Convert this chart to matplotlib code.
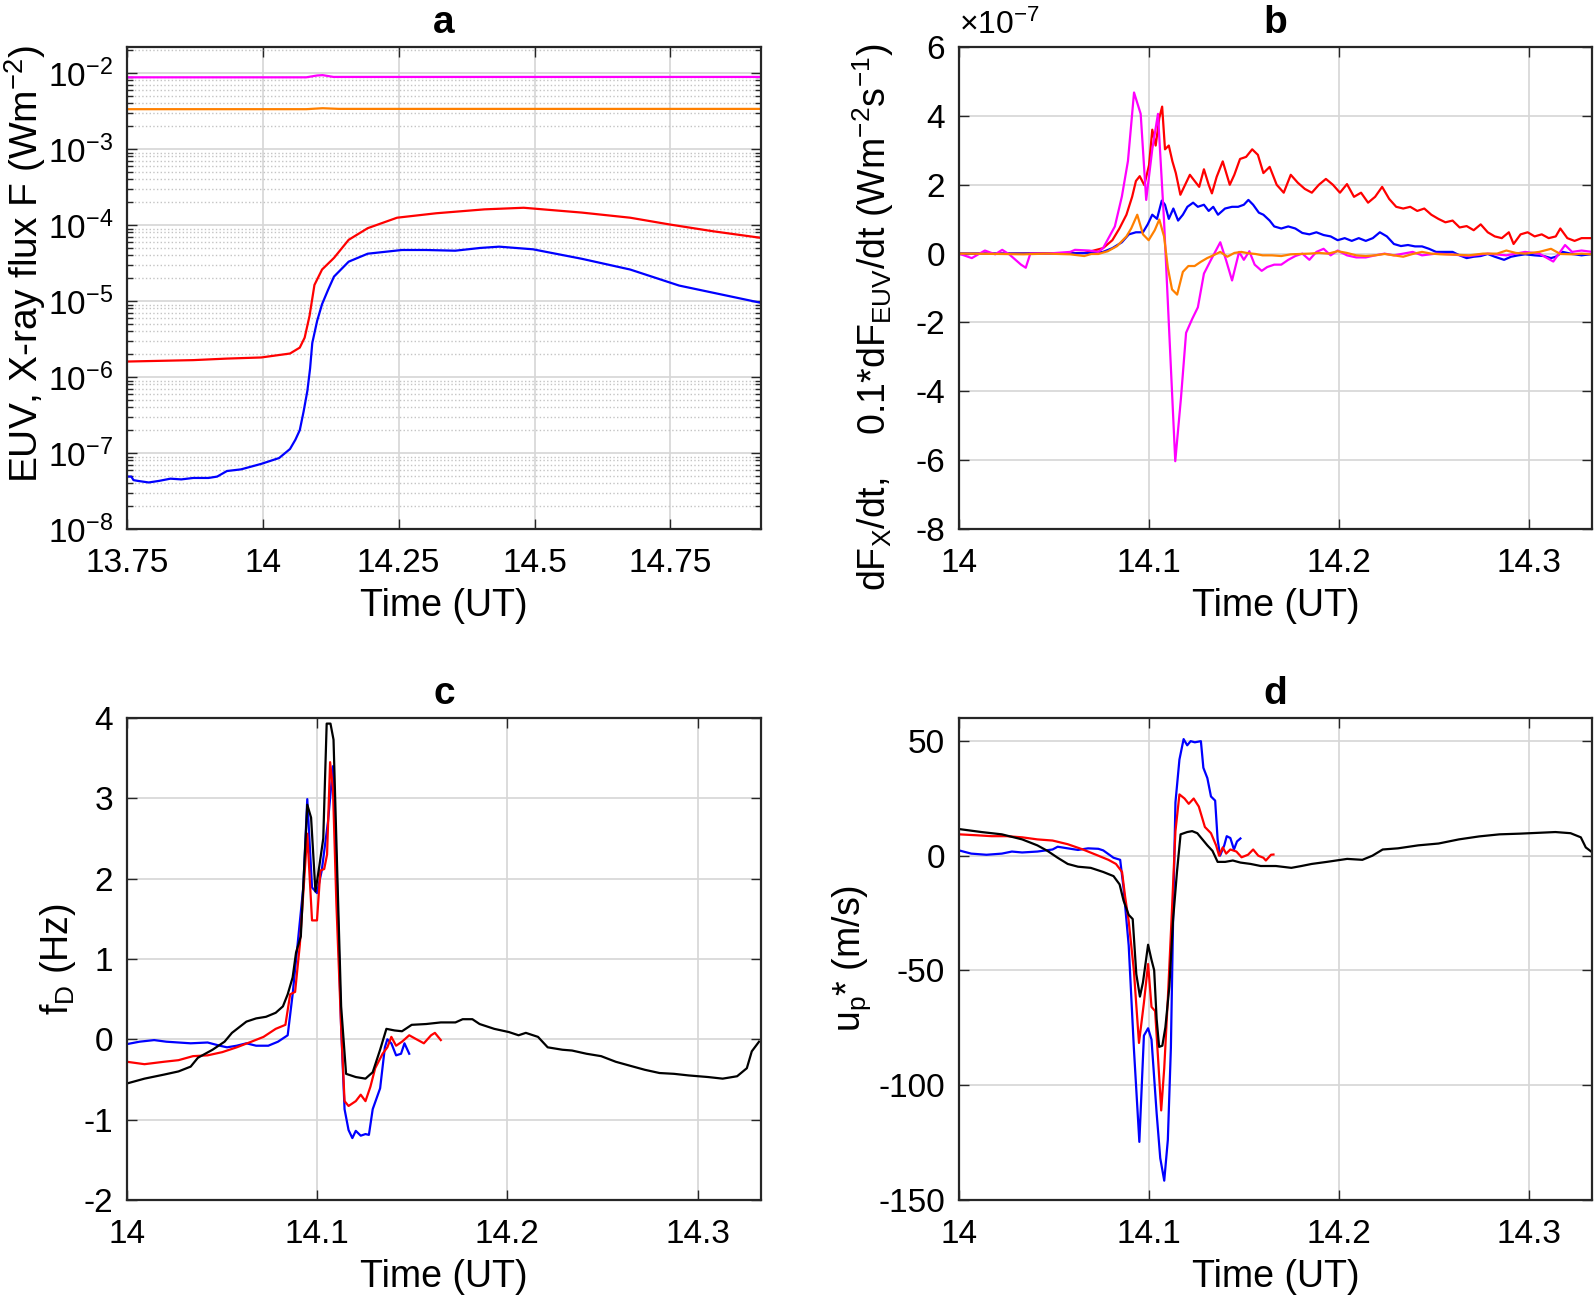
import numpy as np
import matplotlib
matplotlib.use("Agg")
import matplotlib.pyplot as plt
from matplotlib.ticker import FuncFormatter, LogLocator, NullFormatter

plt.rcParams['font.family'] = ['Liberation Sans', 'DejaVu Sans']
plt.rcParams['mathtext.fontset'] = 'custom'
plt.rcParams['mathtext.rm'] = 'Liberation Sans'
plt.rcParams['mathtext.it'] = 'Liberation Sans:italic'
plt.rcParams['mathtext.bf'] = 'Liberation Sans:bold'
plt.rcParams['mathtext.default'] = 'regular'
plt.rcParams['axes.unicode_minus'] = False

RED, BLUE, MAG, ORANGE, BLACK = '#ff0000', '#0000ff', '#ff00ff', '#ff8000', '#000000'

# ---- panel a: fluxes (W m^-2)
a_red_t = [13.75, 13.872, 13.934, 13.997, 14.05, 14.068, 14.077, 14.086, 14.095, 14.109, 14.131,
           14.158, 14.193, 14.247, 14.319, 14.408, 14.48, 14.587, 14.676, 14.748, 14.828, 14.916]
a_red_f = [1.6e-6, 1.67e-6, 1.75e-6, 1.81e-6, 2.04e-6, 2.44e-6, 3.3e-6, 6.4e-6, 1.63e-5, 2.6e-5, 3.7e-5,
           6.4e-5, 9.1e-5, 1.25e-4, 1.43e-4, 1.61e-4, 1.69e-4, 1.46e-4, 1.25e-4, 1.02e-4, 8.3e-5, 6.8e-5]
a_blue_t = [13.75, 13.758, 13.762, 13.77, 13.79, 13.809, 13.83, 13.85, 13.872, 13.9, 13.916, 13.934, 13.96,
            13.997, 14.03, 14.05, 14.06, 14.068, 14.075, 14.082, 14.087, 14.091, 14.1, 14.109, 14.12,
            14.131, 14.158, 14.193, 14.256, 14.3, 14.354, 14.4, 14.435, 14.497, 14.587, 14.676, 14.766, 14.916]
a_blue_f = [4.9e-8, 4.9e-8, 4.4e-8, 4.3e-8, 4.1e-8, 4.3e-8, 4.6e-8, 4.5e-8, 4.7e-8, 4.7e-8, 4.9e-8, 5.8e-8, 6.1e-8,
            7.2e-8, 8.6e-8, 1.13e-7, 1.5e-7, 2.0e-7, 3.5e-7, 6.6e-7, 1.3e-6, 2.8e-6, 5.5e-6, 9.1e-6, 1.4e-5,
            2.1e-5, 3.3e-5, 4.2e-5, 4.7e-5, 4.7e-5, 4.6e-5, 5.0e-5, 5.2e-5, 4.8e-5, 3.6e-5, 2.6e-5, 1.6e-5, 9.5e-6]
a_mag_t = [13.75, 14.08, 14.1, 14.11, 14.13, 14.5, 14.916]
a_mag_f = [8.8e-3, 8.8e-3, 9.3e-3, 9.4e-3, 8.9e-3, 8.9e-3, 8.9e-3]
a_org_t = [13.75, 14.08, 14.11, 14.14, 14.916]
a_org_f = [3.35e-3, 3.35e-3, 3.45e-3, 3.38e-3, 3.38e-3]

# ---- panel b: derivatives (units of 1e-7 W m^-2 s^-1)
b_mag_t = [14.0, 14.0067, 14.0136, 14.019, 14.0227, 14.0264, 14.0326, 14.0351, 14.0375, 14.0462, 14.0585,
           14.061, 14.0684, 14.0733, 14.0758, 14.082, 14.0857, 14.0889, 14.0921, 14.0956, 14.0985, 14.1017,
           14.1047, 14.1079, 14.1138, 14.1168, 14.1195, 14.1227, 14.1257, 14.1289, 14.1326, 14.1375, 14.1405,
           14.1437, 14.1474, 14.1499, 14.1528, 14.1556, 14.1593, 14.1622, 14.1659, 14.1696, 14.1733, 14.177,
           14.1807, 14.1844, 14.1881, 14.1919, 14.1956, 14.1993, 14.2042, 14.2091, 14.2141, 14.219, 14.224,
           14.2289, 14.2338, 14.2388, 14.2437, 14.2511, 14.2585, 14.2684, 14.2783, 14.2881, 14.298, 14.3054,
           14.3128, 14.319, 14.3227, 14.3277, 14.3333]
b_mag_v = [0.0, -0.13, 0.09, -0.02, 0.11, -0.02, -0.32, -0.41, 0.0, 0.0, 0.05,
           0.11, 0.09, 0.05, 0.16, 0.79, 1.66, 2.69, 4.68, 4.06, 1.56, 3.03,
           4.06, 0.95, -6.03, -4.2, -2.3, -1.9, -1.56, -0.58, -0.18, 0.33, -0.18,
           -0.78, 0.05, -0.18, 0.07, -0.32, -0.5, -0.39, -0.32, -0.32, -0.18, -0.07,
           0.0, -0.18, 0.05, 0.14, -0.05, 0.09, -0.05, -0.11, -0.11, -0.05, 0.0,
           -0.05, 0.0, 0.05, -0.05, 0.0, -0.02, -0.07, 0.0, -0.05, 0.05, 0.0,
           -0.23, 0.25, 0.05, 0.09, 0.05]
b_red_t = [14.0, 14.0215, 14.0462, 14.0659, 14.0709, 14.0758, 14.0807, 14.0844, 14.0881, 14.0911, 14.0931,
           14.0951, 14.0975, 14.1, 14.1017, 14.1035, 14.1054, 14.1069, 14.1084, 14.1104, 14.1123, 14.1141,
           14.1165, 14.119, 14.1215, 14.124, 14.1264, 14.1289, 14.1314, 14.1331, 14.1356, 14.1388, 14.1425,
           14.1449, 14.1479, 14.1511, 14.1543, 14.1573, 14.1602, 14.1635, 14.1672, 14.1709, 14.1746, 14.1783,
           14.182, 14.1857, 14.1894, 14.1931, 14.1968, 14.2005, 14.2042, 14.2079, 14.2116, 14.2153, 14.219,
           14.2227, 14.2264, 14.2301, 14.2338, 14.2375, 14.2412, 14.2449, 14.2486, 14.2523, 14.256, 14.2598,
           14.2635, 14.2672, 14.2709, 14.2746, 14.2783, 14.282, 14.2857, 14.2894, 14.2919, 14.2956, 14.2993,
           14.303, 14.3067, 14.3104, 14.3141, 14.3165, 14.3202, 14.324, 14.3277, 14.3333]
b_red_v = [0.0, 0.0, 0.01, 0.02, 0.09, 0.16, 0.39, 0.73, 1.13, 1.65, 2.11,
           2.25, 1.99, 2.57, 3.6, 3.14, 3.94, 4.27, 3.03, 3.14, 2.68, 2.34,
           1.71, 2.0, 2.29, 2.11, 1.94, 2.45, 2.0, 1.75, 2.23, 2.68, 2.0,
           2.29, 2.75, 2.81, 3.03, 2.87, 2.34, 2.52, 2.0, 1.77, 2.29, 2.06,
           1.88, 1.77, 2.0, 2.17, 2.0, 1.77, 2.02, 1.65, 1.77, 1.48, 1.65,
           1.94, 1.59, 1.36, 1.31, 1.36, 1.24, 1.31, 1.13, 1.01, 0.91, 0.96,
           0.76, 0.8, 0.68, 0.85, 0.62, 0.5, 0.45, 0.62, 0.28, 0.56, 0.62,
           0.5, 0.56, 0.45, 0.5, 0.73, 0.45, 0.37, 0.45, 0.45]
b_blue_t = [14.0, 14.0462, 14.0709, 14.0758, 14.0807, 14.0857, 14.0894, 14.0931, 14.0968, 14.0993, 14.1017,
            14.1042, 14.1067, 14.1084, 14.1104, 14.1128, 14.1153, 14.1178, 14.1202, 14.1232, 14.1257, 14.1289,
            14.1314, 14.1338, 14.1363, 14.14, 14.1437, 14.1469, 14.1499, 14.1523, 14.1548, 14.1578, 14.1602,
            14.1635, 14.1659, 14.1696, 14.1733, 14.177, 14.1807, 14.1844, 14.1881, 14.1919, 14.1956, 14.1993,
            14.203, 14.2067, 14.2104, 14.2141, 14.2178, 14.2215, 14.2252, 14.2289, 14.2326, 14.2363, 14.24,
            14.2437, 14.2474, 14.2511, 14.256, 14.2598, 14.2635, 14.2672, 14.2709, 14.2746, 14.2783, 14.282,
            14.2869, 14.2906, 14.2943, 14.298, 14.303, 14.3079, 14.3116, 14.3141, 14.3178, 14.3227, 14.3277, 14.3333]
b_blue_v = [0.0, 0.0, 0.02, 0.05, 0.16, 0.33, 0.56, 0.62, 0.62, 0.85, 1.13,
            1.01, 1.54, 1.42, 1.01, 1.31, 0.96, 1.13, 1.36, 1.48, 1.36, 1.42,
            1.24, 1.36, 1.13, 1.31, 1.36, 1.36, 1.42, 1.56, 1.42, 1.19, 1.13,
            0.96, 0.79, 0.73, 0.79, 0.73, 0.6, 0.56, 0.62, 0.54, 0.5, 0.39,
            0.45, 0.37, 0.45, 0.37, 0.45, 0.62, 0.5, 0.28, 0.22, 0.25, 0.21,
            0.21, 0.14, 0.05, 0.05, 0.05, -0.05, -0.13, -0.09, -0.07, -0.01, -0.09,
            -0.18, -0.09, -0.05, -0.02, -0.05, -0.07, -0.13, -0.09, 0.05, -0.01, -0.05, -0.01]
b_org_t = [14.0, 14.0215, 14.0338, 14.0462, 14.0585, 14.0659, 14.0696, 14.0733, 14.0783, 14.0832, 14.0881,
           14.0906, 14.0938, 14.0968, 14.0998, 14.103, 14.1054, 14.1079, 14.1099, 14.1121, 14.1148, 14.1178,
           14.1207, 14.124, 14.1272, 14.1306, 14.1338, 14.1375, 14.1412, 14.1449, 14.1486, 14.1523, 14.156,
           14.1598, 14.1647, 14.1696, 14.1746, 14.1795, 14.1844, 14.1894, 14.1943, 14.1993, 14.2042, 14.2091,
           14.2141, 14.219, 14.224, 14.2289, 14.2338, 14.2388, 14.2437, 14.2486, 14.2536, 14.261, 14.2684,
           14.2758, 14.2832, 14.2881, 14.2931, 14.298, 14.3054, 14.3116, 14.3165, 14.3227, 14.3277, 14.3333]
b_org_v = [0.0, -0.01, -0.02, 0.0, -0.02, -0.07, -0.01, -0.01, 0.07, 0.22, 0.5,
           0.73, 1.13, 0.56, 0.39, 0.68, 0.99, 0.5, -0.41, -1.04, -1.19, -0.53,
           -0.36, -0.36, -0.24, -0.13, -0.05, 0.05, -0.09, 0.02, 0.05, 0.01, -0.01,
           -0.05, -0.05, -0.07, -0.02, -0.01, 0.0, 0.02, 0.0, 0.07, 0.02, -0.05,
           -0.07, -0.05, -0.01, -0.05, -0.09, -0.01, 0.05, 0.0, -0.02, -0.03, -0.05,
           0.0, 0.0, 0.09, 0.02, 0.0, 0.05, 0.14, -0.01, -0.02, 0.0, -0.02]

# ---- panel c: Doppler shift (Hz)
c_blk_t = [14.0, 14.0092, 14.0194, 14.0271, 14.0335, 14.0373, 14.045, 14.0513, 14.0552, 14.0628, 14.0679,
           14.0731, 14.0782, 14.082, 14.0845, 14.0871, 14.0889, 14.0914, 14.0948, 14.0968, 14.0991, 14.1011,
           14.1032, 14.105, 14.107, 14.1086, 14.1106, 14.1126, 14.1152, 14.1203, 14.1254, 14.1292, 14.1331,
           14.1364, 14.1407, 14.1446, 14.1497, 14.1573, 14.165, 14.1727, 14.1765, 14.1816, 14.1854, 14.1931,
           14.2008, 14.2059, 14.2097, 14.2161, 14.2212, 14.2289, 14.234, 14.2416, 14.2493, 14.257, 14.2646,
           14.2723, 14.28, 14.2876, 14.2953, 14.3055, 14.3132, 14.3208, 14.3259, 14.3285, 14.3323]
c_blk_v = [-0.55, -0.49, -0.44, -0.4, -0.34, -0.23, -0.13, -0.03, 0.08, 0.22, 0.26,
           0.28, 0.33, 0.41, 0.56, 0.77, 1.08, 1.28, 2.92, 2.76, 1.84, 2.15,
           2.5, 3.93, 3.93, 3.73, 2.05, 0.41, -0.43, -0.47, -0.49, -0.41, -0.13,
           0.13, 0.11, 0.1, 0.18, 0.19, 0.21, 0.21, 0.25, 0.25, 0.19, 0.13,
           0.09, 0.05, 0.08, 0.03, -0.1, -0.13, -0.14, -0.18, -0.21, -0.28, -0.33,
           -0.38, -0.42, -0.43, -0.45, -0.47, -0.49, -0.46, -0.36, -0.15, -0.03]
c_red_t = [14.0, 14.0092, 14.0194, 14.0271, 14.0347, 14.0424, 14.0501, 14.0577, 14.0654, 14.0718, 14.0782,
           14.0833, 14.0858, 14.0884, 14.0909, 14.0948, 14.0973, 14.0999, 14.1017, 14.1037, 14.1052, 14.1068,
           14.1083, 14.1101, 14.1126, 14.1144, 14.1165, 14.1203, 14.1229, 14.1254, 14.128, 14.1305, 14.1344,
           14.1369, 14.139, 14.1415, 14.1446, 14.1484, 14.1522, 14.1561, 14.1599, 14.1619, 14.165]
c_red_v = [-0.28, -0.31, -0.28, -0.26, -0.21, -0.2, -0.16, -0.1, -0.03, 0.03, 0.13,
           0.18, 0.56, 0.59, 1.18, 2.56, 1.48, 1.48, 2.1, 2.12, 2.3, 3.45,
           3.12, 1.69, 0.15, -0.77, -0.83, -0.77, -0.69, -0.77, -0.59, -0.36, -0.18,
           -0.1, 0.03, -0.08, -0.03, 0.05, 0.0, -0.05, 0.05, 0.08, -0.01]
c_blue_t = [14.0, 14.0066, 14.0143, 14.0207, 14.0271, 14.0335, 14.0424, 14.0488, 14.0526, 14.0577, 14.0628,
            14.0679, 14.0743, 14.0794, 14.0845, 14.0871, 14.0897, 14.0927, 14.0948, 14.0973, 14.0999, 14.1024,
            14.1057, 14.1083, 14.1101, 14.1126, 14.1144, 14.1165, 14.1185, 14.1203, 14.1229, 14.1254, 14.1272,
            14.1292, 14.1331, 14.1356, 14.1369, 14.139, 14.1415, 14.1441, 14.1459, 14.1484]
c_blue_v = [-0.06, -0.03, -0.01, -0.03, -0.04, -0.05, -0.04, -0.08, -0.1, -0.08, -0.05,
            -0.08, -0.08, -0.03, 0.05, 0.56, 1.18, 1.89, 2.99, 1.89, 1.82, 2.1,
            2.71, 3.4, 2.2, 0.15, -0.87, -1.13, -1.23, -1.14, -1.2, -1.18, -1.19,
            -0.87, -0.61, -0.1, 0.0, -0.05, -0.2, -0.18, -0.05, -0.18]

# ---- panel d: plasma velocity (m/s)
d_blk_t = [14.0, 14.0118, 14.0225, 14.0332, 14.0412, 14.0465, 14.0519, 14.0572, 14.0626, 14.0693, 14.0759,
           14.0813, 14.0845, 14.0866, 14.0893, 14.0914, 14.0933, 14.0952, 14.0968, 14.0995, 14.1013, 14.1027,
           14.104, 14.1053, 14.107, 14.1086, 14.1107, 14.1126, 14.1147, 14.1166, 14.1201, 14.1227, 14.1254,
           14.1281, 14.1307, 14.1334, 14.1361, 14.1401, 14.1441, 14.1481, 14.1535, 14.1588, 14.1668, 14.1749,
           14.1802, 14.1856, 14.1936, 14.2043, 14.2123, 14.2176, 14.223, 14.231, 14.2417, 14.2524, 14.2631,
           14.2738, 14.2845, 14.2952, 14.3059, 14.3139, 14.3219, 14.3273, 14.3299, 14.3334]
d_blk_v = [11.6, 10.3, 9.3, 7.1, 4.5, 2.1, -0.9, -3.6, -4.8, -5.3, -7.1,
           -8.9, -12.5, -19.6, -25.8, -27.6, -51.6, -61.4, -55.2, -38.8, -45.4, -49.9,
           -71.2, -83.3, -82.8, -74.8, -57.0, -28.5, -7.1, 9.3, 10.3, 10.7, 9.8,
           7.1, 4.5, 2.1, -2.7, -2.7, -2.1, -3.0, -3.6, -4.5, -4.5, -5.3,
           -4.5, -3.6, -2.7, -1.4, -1.8, 0.0, 2.7, 3.2, 4.5, 5.3, 7.1,
           8.4, 9.3, 9.6, 10.0, 10.3, 9.8, 8.0, 3.6, 1.4]
d_red_t = [14.0, 14.0091, 14.0171, 14.0251, 14.0332, 14.0412, 14.0492, 14.0572, 14.0652, 14.0733, 14.0786,
           14.0826, 14.0858, 14.0874, 14.0893, 14.092, 14.0947, 14.0973, 14.0995, 14.1013, 14.1032, 14.1048,
           14.1064, 14.108, 14.1099, 14.112, 14.1139, 14.116, 14.1187, 14.1209, 14.1235, 14.1262, 14.1294,
           14.1326, 14.1353, 14.1369, 14.1388, 14.1406, 14.1428, 14.146, 14.1487, 14.1521, 14.1548, 14.1575,
           14.1602, 14.1615, 14.1642, 14.1655]
d_red_v = [9.3, 8.9, 8.5, 8.5, 8.0, 7.1, 6.6, 5.0, 2.7, 0.0, -1.8,
           -3.6, -7.1, -17.8, -28.5, -49.9, -81.6, -64.1, -47.2, -65.9, -67.7, -89.0,
           -111.0, -92.6, -62.3, -24.9, 10.7, 26.7, 24.9, 22.6, 24.9, 21.4, 12.5,
           9.8, 4.5, 0.0, 3.6, 0.9, 2.7, 1.8, -0.7, 0.4, 2.7, 0.0,
           -0.9, -2.1, 0.4, 0.5]
d_blue_t = [14.0, 14.0064, 14.0144, 14.0225, 14.0278, 14.0332, 14.0412, 14.0492, 14.0519, 14.0572, 14.0626,
            14.0679, 14.0733, 14.0759, 14.0813, 14.0848, 14.0866, 14.0893, 14.092, 14.0949, 14.0973, 14.0995,
            14.1013, 14.104, 14.1059, 14.108, 14.1099, 14.1115, 14.1128, 14.1139, 14.116, 14.1182, 14.1201,
            14.1219, 14.1241, 14.1273, 14.1286, 14.1307, 14.1326, 14.1348, 14.1361, 14.1374, 14.1396, 14.1409,
            14.1428, 14.1447, 14.1463, 14.1481]
d_blue_v = [2.3, 0.9, 0.4, 0.9, 1.8, 1.4, 1.8, 2.7, 3.9, 3.2, 2.5,
            3.2, 3.0, 2.3, -0.9, -1.8, -14.2, -39.2, -83.7, -124.7, -78.4, -75.2,
            -80.1, -112.2, -131.8, -141.6, -123.8, -83.7, -21.4, 23.2, 41.9, 50.8, 48.1,
            49.9, 49.4, 49.9, 38.3, 33.8, 25.8, 24.0, 7.1, 0.0, 4.5, 8.5,
            7.7, 2.7, 6.2, 7.5]

FS = 24     # tick labels
LFS = 27    # axis labels
LW = 1.6


def style(ax, title):
    ax.set_title(title, fontsize=28, fontweight='bold', pad=10)
    ax.set_xlabel('Time (UT)', fontsize=LFS, labelpad=6)
    ax.tick_params(direction='in', which='both', top=True, right=True, labelsize=FS,
                   length=7, width=1, color='#262626')
    ax.tick_params(axis='x', pad=14)
    ax.tick_params(axis='y', pad=10)
    ax.tick_params(which='minor', length=4)
    for s in ax.spines.values():
        s.set_color('#262626')
        s.set_linewidth(1.6)
    ax.grid(True, which='major', color='#d6d6d6', lw=1.2)
    ax.set_axisbelow(True)


fig = plt.figure(figsize=(15.95, 13.04), dpi=100)
ax_a = fig.add_axes([0.0796, 0.5943, 0.3975, 0.3696])
ax_b = fig.add_axes([0.6013, 0.5943, 0.3970, 0.3696])
ax_c = fig.add_axes([0.0796, 0.0798, 0.3975, 0.3696])
ax_d = fig.add_axes([0.6013, 0.0798, 0.3970, 0.3696])

# a
ax_a.semilogy(a_red_t, a_red_f, color=RED, lw=LW)
ax_a.semilogy(a_blue_t, a_blue_f, color=BLUE, lw=LW)
ax_a.semilogy(a_mag_t, a_mag_f, color=MAG, lw=LW)
ax_a.semilogy(a_org_t, a_org_f, color=ORANGE, lw=LW)
ax_a.set_xlim(13.75, 14.9167)
ax_a.set_ylim(1e-8, 2.2e-2)
ax_a.set_xticks([13.75, 14, 14.25, 14.5, 14.75])
ax_a.set_xticklabels(['13.75', '14', '14.25', '14.5', '14.75'])
ax_a.yaxis.set_major_locator(LogLocator(base=10, numticks=10))
ax_a.yaxis.set_minor_locator(LogLocator(base=10, subs=np.arange(2, 10), numticks=20))
ax_a.yaxis.set_minor_formatter(NullFormatter())
style(ax_a, 'a')
ax_a.grid(True, which='minor', axis='y', color='#c4c4c4', lw=1.0, ls=':')
ax_a.set_ylabel('EUV, X-ray flux F (Wm$^{-2}$)', fontsize=28)
ax_a.yaxis.set_label_coords(-0.125, 0.55)

# b
sc = 1e-7
ax_b.plot(b_red_t, np.array(b_red_v) * sc, color=RED, lw=LW)
ax_b.plot(b_blue_t, np.array(b_blue_v) * sc, color=BLUE, lw=LW)
ax_b.plot(b_mag_t, np.array(b_mag_v) * sc, color=MAG, lw=LW)
ax_b.plot(b_org_t, np.array(b_org_v) * sc, color=ORANGE, lw=LW)
ax_b.set_xlim(14, 14 + 1 / 3)
ax_b.set_ylim(-8e-7, 6e-7)
ax_b.set_yticks(np.arange(-8, 7, 2) * sc)
ax_b.yaxis.set_major_formatter(FuncFormatter(lambda v, p: '%d' % round(v / sc)))
ax_b.set_xticks([14, 14.1, 14.2, 14.3])
ax_b.set_xticklabels(['14', '14.1', '14.2', '14.3'])
style(ax_b, 'b')
ax_b.text(0.0, 1.012, r'$\times10^{-7}$', transform=ax_b.transAxes, ha='left', va='bottom', fontsize=23)
ax_b.set_ylabel('dF$_X$/dt,    0.1*dF$_{EUV}$/dt (Wm$^{-2}$s$^{-1}$)', fontsize=LFS)
ax_b.yaxis.set_label_coords(-0.1, 0.44)

# c
ax_c.plot(c_blue_t, c_blue_v, color=BLUE, lw=LW)
ax_c.plot(c_red_t, c_red_v, color=RED, lw=LW)
ax_c.plot(c_blk_t, c_blk_v, color=BLACK, lw=LW)
ax_c.set_xlim(14, 14 + 1 / 3)
ax_c.set_ylim(-2, 4)
ax_c.set_xticks([14, 14.1, 14.2, 14.3])
ax_c.set_xticklabels(['14', '14.1', '14.2', '14.3'])
style(ax_c, 'c')
ax_c.set_ylabel('f$_D$ (Hz)', fontsize=LFS)

# d
ax_d.plot(d_blue_t, d_blue_v, color=BLUE, lw=LW)
ax_d.plot(d_red_t, d_red_v, color=RED, lw=LW)
ax_d.plot(d_blk_t, d_blk_v, color=BLACK, lw=LW)
ax_d.set_xlim(14, 14 + 1 / 3)
ax_d.set_ylim(-150, 60)
ax_d.set_yticks([-150, -100, -50, 0, 50])
ax_d.set_xticks([14, 14.1, 14.2, 14.3])
ax_d.set_xticklabels(['14', '14.1', '14.2', '14.3'])
style(ax_d, 'd')
ax_d.set_ylabel('u$_p$* (m/s)', fontsize=LFS)

fig.savefig('out.png', dpi=100)
